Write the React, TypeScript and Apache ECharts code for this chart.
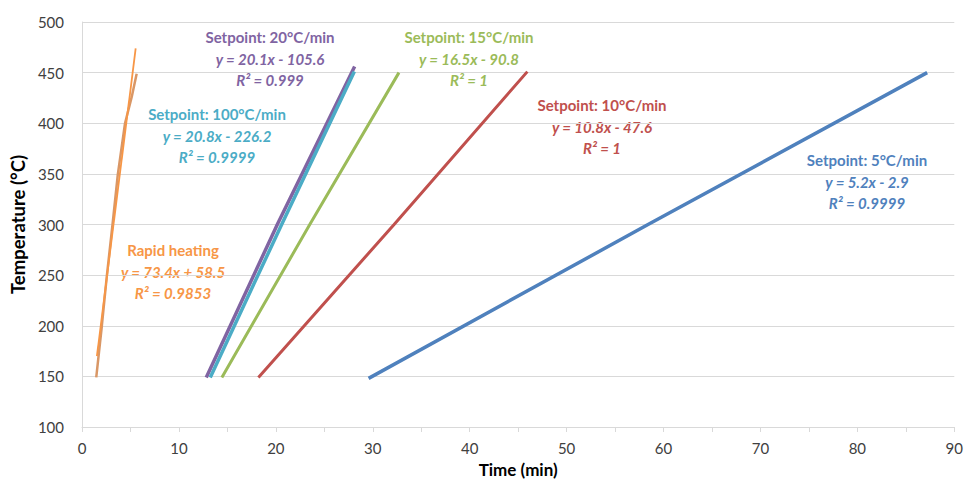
import React, { useEffect, useRef } from "react";
import * as echarts from "echarts";

const rapidX = [1.47, 2.05, 2.56, 3.15, 3.69, 4.44, 5.13, 5.64];
const rapidY = [149, 200, 249, 300, 349, 400, 426, 449];
const rapidTrendX = [1.54, 5.54];
const rapidTrendY = [170, 474];
const sp100X = [13.23, 20.6, 28.1];
const sp100Y = [149, 300, 451];
const sp20X = [12.82, 20.2, 28.13];
const sp20Y = [149, 301, 456];
const sp15X = [14.43, 23.5, 32.7];
const sp15Y = [149, 300, 450];
const sp10X = [18.2, 32.2, 45.95];
const sp10Y = [149, 300, 451];
const sp5X = [29.57, 58.4, 87.2];
const sp5Y = [148, 300, 450];

const xMin = 0, xMax = 90, xStep = 5;
const yMin = 100, yMax = 500, yStep = 50;

const pairs = (xs: number[], ys: number[]) => xs.map((x, i) => [x, ys[i]]);

const C = {
  orange: "#F79646",
  teal: "#4BACC6",
  purple: "#8064A2",
  green: "#9BBB59",
  red: "#C0504D",
  blue: "#4F81BD",
};

const labelBlocks = [
  { cx: 270, y: 37, color: C.purple, lines: ["Setpoint: 20°C/min", "y = 20.1x - 105.6", "R² = 0.999"] },
  { cx: 469, y: 37, color: C.green, lines: ["Setpoint: 15°C/min", "y = 16.5x - 90.8", "R² = 1"] },
  { cx: 217, y: 114, color: C.teal, lines: ["Setpoint: 100°C/min", "y = 20.8x - 226.2", "R² = 0.9999"] },
  { cx: 602, y: 105, color: C.red, lines: ["Setpoint: 10°C/min", "y = 10.8x - 47.6", "R² = 1"] },
  { cx: 867, y: 160, color: C.blue, lines: ["Setpoint: 5°C/min", "y = 5.2x - 2.9", "R² = 0.9999"] },
  { cx: 173, y: 250, color: C.orange, lines: ["Rapid heating", "y = 73.4x + 58.5", "R² = 0.9853"] },
];

const FONT = "Lato";

export default function App() {
  const ref = useRef<HTMLDivElement>(null);
  useEffect(() => {
    if (!ref.current) return;
    const chart = echarts.init(ref.current, null, { renderer: "svg" });
    const graphics: any[] = [];
    labelBlocks.forEach((b) => {
      b.lines.forEach((t, i) => {
        graphics.push({
          type: "text",
          x: b.cx,
          y: b.y + i * 21.5,
          style: {
            text: t,
            fill: b.color,
            font: `${i === 0 ? "normal" : "italic"} bold 15px ${FONT}`,
            align: "center",
            verticalAlign: "middle",
          },
        });
      });
    });
    const dataLine = (name: string, data: number[][], color: string, width: number) => ({
      name,
      type: "line",
      data,
      symbol: "none",
      smooth: false,
      lineStyle: { color, width },
      z: 3,
    });
    chart.setOption({
      animation: false,
      backgroundColor: "#ffffff",
      grid: { left: 80, right: 9, top: 22, bottom: 55, containLabel: false },
      xAxis: {
        type: "value",
        min: xMin,
        max: xMax,
        interval: xStep,
        name: "Time (min)",
        nameLocation: "middle",
        nameGap: 34,
        nameTextStyle: { fontFamily: FONT, fontWeight: "bold", fontSize: 17, color: "#000" },
        axisLine: { show: true, lineStyle: { color: "#d9d9d9", width: 1 } },
        axisTick: { show: true, length: 5, lineStyle: { color: "#d9d9d9" } },
        axisLabel: {
          fontFamily: FONT,
          fontSize: 15,
          color: "#404040",
          margin: 13,
          formatter: (v: number) => (v % 10 === 0 ? String(v) : ""),
        },
        splitLine: { show: false },
      },
      yAxis: {
        type: "value",
        min: yMin,
        max: yMax,
        interval: yStep,
        name: "Temperature (°C)",
        nameLocation: "middle",
        nameGap: 53,
        nameRotate: 90,
        nameTextStyle: { fontFamily: FONT, fontWeight: "bold", fontSize: 18.5, color: "#000" },
        axisLine: { show: true, lineStyle: { color: "#d9d9d9", width: 1 } },
        axisTick: { show: false },
        axisLabel: { fontFamily: FONT, fontSize: 15, color: "#404040", margin: 18 },
        splitLine: { show: true, lineStyle: { color: "#d9d9d9", width: 1 } },
      },
      series: [
        dataLine("Setpoint: 5°C/min", pairs(sp5X, sp5Y), C.blue, 3.5),
        dataLine("Setpoint: 10°C/min", pairs(sp10X, sp10Y), C.red, 3),
        dataLine("Setpoint: 15°C/min", pairs(sp15X, sp15Y), C.green, 3),
        dataLine("Setpoint: 20°C/min", pairs(sp20X, sp20Y), C.purple, 3.5),
        dataLine("Setpoint: 100°C/min", pairs(sp100X, sp100Y), C.teal, 3.5),
        dataLine("Rapid heating", pairs(rapidX, rapidY), "#d99766", 2.5),
        {
          name: "Rapid heating trend",
          type: "line",
          data: pairs(rapidTrendX, rapidTrendY),
          symbol: "none",
          lineStyle: { color: C.orange, width: 1.8 },
          z: 4,
        },
      ],
      graphic: graphics,
    });
    return () => chart.dispose();
  }, []);
  return <div ref={ref} style={{ width: 966, height: 483, position: "absolute", left: 0, top: 0 }} />;
}
